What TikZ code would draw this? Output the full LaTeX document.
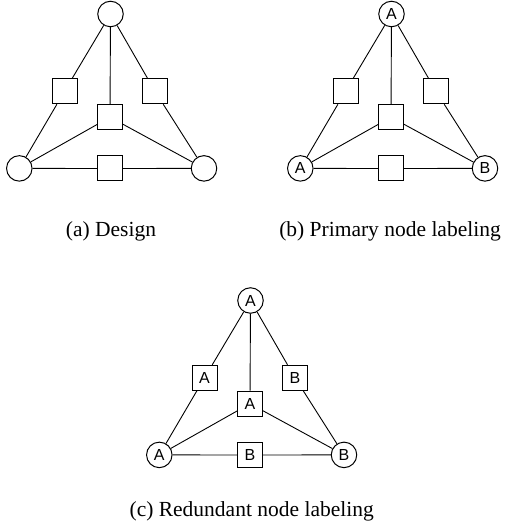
\documentclass[tikz,border=0pt]{standalone}
\usepackage{fontspec}
\setmainfont{Liberation Serif}
\newfontfamily\labfont{Liberation Sans}
\tikzset{
  vert/.style={circle,draw,line width=1pt,minimum size=25.5pt,inner sep=0pt,
    font=\labfont\fontsize{16}{16}\selectfont},
  hedge/.style={rectangle,draw,line width=1pt,minimum size=25pt,inner sep=0pt,
    font=\labfont\fontsize{16}{16}\selectfont},
  link/.style={line width=0.9pt},
  capt/.style={anchor=base,inner sep=0pt,font=\fontsize{21.5}{24}\selectfont}
}
\newcommand\graphbody[7]{%
  \node[vert] (t) at (110.5,14) {#1};
  \node[vert] (l) at (19.3,168.4) {#2};
  \node[vert] (r) at (204,168.4) {#3};
  \node[hedge] (sl) at (64.5,91.3) {#4};
  \node[hedge] (sr) at (155,91.3) {#5};
  \node[hedge] (sm) at (110,117.2) {#6};
  \node[hedge] (sb) at (110,168.5) {#7};
  \draw[link] (t) -- (sl) (sl) -- (l) (t) -- (sr) (sr) -- (r) (t) -- (sm)
    (sm) -- (l) (sm) -- (r) (l) -- (sb) (sb) -- (r);
}
\begin{document}
\begin{tikzpicture}[x=1pt,y=-1pt]
  \useasboundingbox (0,0) rectangle (505,529);
  \begin{scope}[name prefix=a-]
    \graphbody{}{}{}{}{}{}{}
  \end{scope}
  \begin{scope}[shift={(281,0)},name prefix=b-]
    \graphbody{A}{A}{B}{}{}{}{}
  \end{scope}
  \begin{scope}[shift={(140,286.5)},name prefix=c-]
    \graphbody{A}{A}{B}{A}{B}{A}{B}
  \end{scope}
  \node[capt] (capa) at (111,236) {(a) Design};
  \node[capt] (capb) at (390,236) {(b) Primary node labeling};
  \node[capt] (capc) at (251.7,516) {(c) Redundant node labeling};
\end{tikzpicture}
\end{document}
